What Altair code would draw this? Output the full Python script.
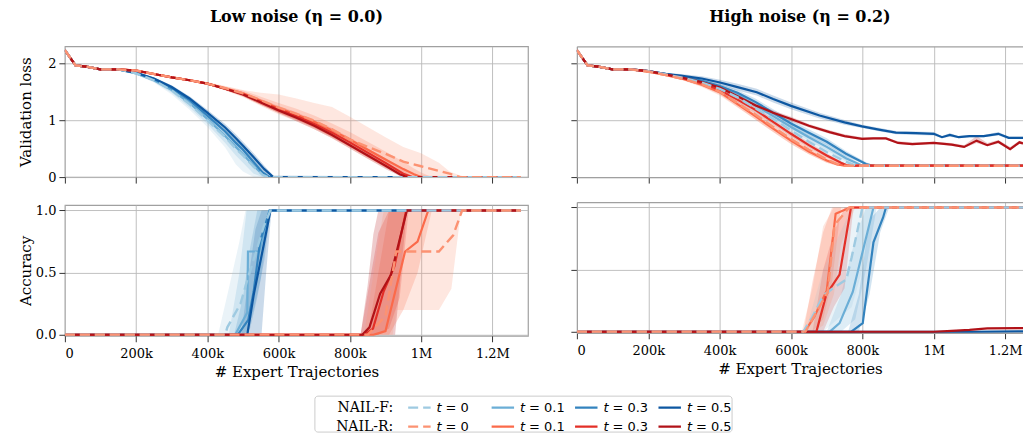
import altair as alt
import pandas as pd

# x values are in thousands of expert trajectories
EARLY_X = [0, 30, 60, 100, 150]
EARLY_LOSS = [2.23, 1.96, 1.94, 1.89, 1.89]

# ---------------- Low noise: validation loss ----------------
LL_F0_X = [200, 250, 300, 350, 400, 450, 480, 500, 530, 555, 570, 1280]
LL_F0_Y = [1.82, 1.70, 1.52, 1.28, 1.00, 0.70, 0.50, 0.38, 0.18, 0.04, 0.0, 0.0]
LL_F0_LO = [1.80, 1.66, 1.45, 1.18, 0.88, 0.52, 0.22, 0.10, 0.0, 0.0, 0.0, 0.0]
LL_F0_HI = [1.84, 1.74, 1.58, 1.38, 1.12, 0.86, 0.68, 0.56, 0.32, 0.12, 0.02, 0.0]
LL_F1_X = [200, 250, 300, 350, 400, 450, 480, 500, 530, 555, 570, 1280]
LL_F1_Y = [1.82, 1.70, 1.53, 1.30, 1.02, 0.72, 0.53, 0.40, 0.20, 0.05, 0.0, 0.0]
LL_F1_LO = [1.80, 1.67, 1.48, 1.22, 0.93, 0.60, 0.38, 0.25, 0.06, 0.0, 0.0, 0.0]
LL_F1_HI = [1.84, 1.73, 1.58, 1.38, 1.10, 0.82, 0.65, 0.52, 0.30, 0.10, 0.01, 0.0]
LL_F3_X = [200, 250, 300, 350, 400, 450, 480, 500, 530, 555, 575, 1280]
LL_F3_Y = [1.83, 1.72, 1.56, 1.35, 1.08, 0.80, 0.60, 0.48, 0.26, 0.08, 0.0, 0.0]
LL_F3_LO = [1.81, 1.69, 1.52, 1.29, 1.00, 0.70, 0.50, 0.38, 0.17, 0.02, 0.0, 0.0]
LL_F3_HI = [1.85, 1.75, 1.60, 1.40, 1.15, 0.88, 0.70, 0.58, 0.36, 0.15, 0.02, 0.0]
LL_F5_X = [200, 250, 300, 350, 400, 450, 480, 500, 530, 560, 585, 1280]
LL_F5_Y = [1.83, 1.73, 1.58, 1.38, 1.13, 0.87, 0.68, 0.55, 0.35, 0.14, 0.0, 0.0]
LL_F5_LO = [1.82, 1.71, 1.55, 1.34, 1.08, 0.81, 0.61, 0.48, 0.28, 0.08, 0.0, 0.0]
LL_F5_HI = [1.85, 1.75, 1.61, 1.42, 1.18, 0.93, 0.75, 0.62, 0.42, 0.20, 0.03, 0.0]
LL_R0_X = [200, 250, 300, 350, 400, 450, 500, 550, 600, 650, 700, 750, 800, 850, 900, 950, 1000, 1050, 1080, 1110, 1130, 1280]
LL_R0_Y = [1.87, 1.81, 1.75, 1.70, 1.64, 1.56, 1.47, 1.35, 1.22, 1.11, 0.99, 0.84, 0.66, 0.53, 0.41, 0.27, 0.19, 0.11, 0.06, 0.0, 0.0, 0.0]
LL_R0_LO = [1.86, 1.80, 1.74, 1.69, 1.62, 1.52, 1.40, 1.25, 1.10, 0.98, 0.84, 0.68, 0.50, 0.32, 0.16, 0.03, 0.0, 0.0, 0.0, 0.0, 0.0, 0.0]
LL_R0_HI = [1.88, 1.82, 1.77, 1.72, 1.67, 1.60, 1.53, 1.48, 1.45, 1.38, 1.30, 1.23, 1.06, 0.88, 0.70, 0.53, 0.42, 0.25, 0.10, 0.03, 0.0, 0.0]
LL_R1_X = [200, 250, 300, 350, 400, 450, 500, 550, 600, 650, 700, 750, 800, 850, 900, 950, 980, 1000, 1030, 1280]
LL_R1_Y = [1.87, 1.81, 1.75, 1.70, 1.64, 1.56, 1.47, 1.34, 1.21, 1.10, 0.97, 0.82, 0.66, 0.48, 0.31, 0.14, 0.05, 0.0, 0.0, 0.0]
LL_R1_LO = [1.86, 1.80, 1.74, 1.69, 1.63, 1.53, 1.42, 1.27, 1.13, 1.01, 0.87, 0.71, 0.55, 0.37, 0.20, 0.05, 0.0, 0.0, 0.0, 0.0]
LL_R1_HI = [1.88, 1.82, 1.76, 1.71, 1.65, 1.59, 1.52, 1.41, 1.30, 1.20, 1.08, 0.94, 0.79, 0.62, 0.45, 0.27, 0.15, 0.08, 0.0, 0.0]
LL_R3_X = [200, 250, 300, 350, 400, 450, 500, 550, 600, 650, 700, 750, 800, 850, 900, 950, 975, 1280]
LL_R3_Y = [1.87, 1.81, 1.75, 1.70, 1.64, 1.55, 1.46, 1.32, 1.19, 1.07, 0.93, 0.78, 0.61, 0.43, 0.25, 0.06, 0.0, 0.0]
LL_R3_LO = [1.86, 1.80, 1.74, 1.69, 1.63, 1.53, 1.42, 1.27, 1.13, 1.00, 0.86, 0.70, 0.53, 0.35, 0.17, 0.01, 0.0, 0.0]
LL_R3_HI = [1.88, 1.82, 1.76, 1.71, 1.65, 1.57, 1.50, 1.37, 1.25, 1.14, 1.00, 0.86, 0.69, 0.51, 0.33, 0.12, 0.03, 0.0]
LL_R5_X = [200, 250, 300, 350, 400, 450, 500, 550, 600, 650, 700, 750, 800, 850, 900, 940, 960, 1280]
LL_R5_Y = [1.87, 1.81, 1.75, 1.70, 1.64, 1.55, 1.45, 1.31, 1.17, 1.04, 0.90, 0.74, 0.56, 0.38, 0.20, 0.05, 0.0, 0.0]
LL_R5_LO = [1.86, 1.80, 1.74, 1.69, 1.63, 1.53, 1.42, 1.27, 1.12, 0.98, 0.84, 0.68, 0.50, 0.32, 0.14, 0.02, 0.0, 0.0]
LL_R5_HI = [1.88, 1.82, 1.76, 1.71, 1.65, 1.57, 1.48, 1.35, 1.22, 1.10, 0.96, 0.80, 0.62, 0.44, 0.26, 0.09, 0.02, 0.0]

# ---------------- Low noise: accuracy ----------------
LA_F0_X = [0, 450, 456, 493, 512, 535, 558, 577, 1280]
LA_F0_Y = [0, 0, 0.06, 0.25, 0.44, 0.65, 0.87, 1.0, 1.0]
LA_F0_BX = [0, 430, 460, 490, 507, 530, 555, 580, 1280]
LA_F0_LO = [0, 0, 0, 0, 0, 0.25, 0.65, 1.0, 1.0]
LA_F0_HI = [0, 0, 0.37, 0.75, 1.0, 1.0, 1.0, 1.0, 1.0]
LA_F1_X = [0, 478, 512, 514, 546, 574, 1280]
LA_F1_Y = [0, 0, 0.18, 0.67, 0.67, 1.0, 1.0]
LA_F1_BX = [0, 460, 490, 510, 530, 550, 575, 1280]
LA_F1_LO = [0, 0, 0, 0, 0.2, 0.45, 1.0, 1.0]
LA_F1_HI = [0, 0, 0.5, 1.0, 1.0, 1.0, 1.0, 1.0]
LA_F3_X = [0, 485, 515, 530, 548, 575, 1280]
LA_F3_Y = [0, 0, 0.12, 0.35, 0.75, 1.0, 1.0]
LA_F3_BX = [0, 475, 500, 520, 540, 560, 578, 1280]
LA_F3_LO = [0, 0, 0, 0.05, 0.3, 0.6, 1.0, 1.0]
LA_F3_HI = [0, 0, 0.3, 0.7, 1.0, 1.0, 1.0, 1.0]
LA_F5_X = [0, 512, 530, 558, 577, 1280]
LA_F5_Y = [0, 0, 0.32, 0.72, 1.0, 1.0]
LA_F5_BX = [0, 495, 515, 535, 552, 565, 580, 1280]
LA_F5_LO = [0, 0, 0, 0, 0, 0.5, 1.0, 1.0]
LA_F5_HI = [0, 0, 0.45, 0.85, 1.0, 1.0, 1.0, 1.0]
LA_R0_X = [0, 850, 900, 930, 1050, 1090, 1115, 1280]
LA_R0_Y = [0, 0, 0.15, 0.67, 0.67, 0.8, 1.0, 1.0]
LA_R0_BX = [0, 840, 880, 895, 920, 930, 1050, 1085, 1112, 1280]
LA_R0_LO = [0, 0, 0, 0, 0, 0.2, 0.2, 0.37, 1.0, 1.0]
LA_R0_HI = [0, 0, 0.75, 1.0, 1.0, 1.0, 1.0, 1.0, 1.0, 1.0]
LA_R1_X = [0, 866, 900, 955, 990, 1020, 1280]
LA_R1_Y = [0, 0, 0.03, 0.67, 0.75, 1.0, 1.0]
LA_R1_BX = [0, 850, 880, 910, 950, 990, 1030, 1280]
LA_R1_LO = [0, 0, 0, 0, 0.2, 0.5, 1.0, 1.0]
LA_R1_HI = [0, 0, 0.5, 1.0, 1.0, 1.0, 1.0, 1.0]
LA_R3_X = [0, 840, 865, 895, 925, 958, 1280]
LA_R3_Y = [0, 0, 0.05, 0.35, 0.55, 1.0, 1.0]
LA_R3_BX = [0, 830, 860, 880, 910, 940, 965, 1280]
LA_R3_LO = [0, 0, 0, 0, 0.05, 0.3, 1.0, 1.0]
LA_R3_HI = [0, 0, 0.5, 0.82, 1.0, 1.0, 1.0, 1.0]
LA_R5_X = [0, 835, 855, 885, 915, 960, 1280]
LA_R5_Y = [0, 0, 0.06, 0.33, 0.48, 1.0, 1.0]
LA_R5_BX = [0, 830, 850, 866, 880, 927, 960, 1280]
LA_R5_LO = [0, 0, 0, 0, 0, 0, 1.0, 1.0]
LA_R5_HI = [0, 0, 0.4, 0.81, 1.0, 1.0, 1.0, 1.0]

# ---------------- High noise: validation loss ----------------
HL_F0_X = [200, 250, 300, 350, 400, 450, 500, 550, 600, 650, 700, 750, 782, 1250]
HL_F0_Y = [1.86, 1.80, 1.74, 1.66, 1.55, 1.40, 1.21, 1.02, 0.82, 0.62, 0.44, 0.28, 0.20, 0.20]
HL_F0_LO = [1.85, 1.78, 1.71, 1.61, 1.48, 1.31, 1.11, 0.91, 0.71, 0.52, 0.35, 0.22, 0.19, 0.19]
HL_F0_HI = [1.87, 1.82, 1.77, 1.71, 1.62, 1.49, 1.31, 1.13, 0.93, 0.73, 0.54, 0.36, 0.23, 0.21]
HL_F1_X = [200, 250, 300, 350, 400, 450, 500, 550, 600, 650, 700, 754, 800, 1250]
HL_F1_Y = [1.86, 1.81, 1.75, 1.68, 1.58, 1.44, 1.26, 1.07, 0.88, 0.70, 0.53, 0.33, 0.20, 0.20]
HL_F1_LO = [1.85, 1.80, 1.73, 1.65, 1.54, 1.39, 1.20, 1.01, 0.82, 0.64, 0.47, 0.28, 0.19, 0.19]
HL_F1_HI = [1.87, 1.82, 1.77, 1.71, 1.62, 1.49, 1.32, 1.13, 0.94, 0.76, 0.59, 0.38, 0.22, 0.21]
HL_F3_X = [200, 250, 300, 350, 400, 450, 500, 550, 600, 650, 700, 754, 810, 830, 1250]
HL_F3_Y = [1.86, 1.81, 1.76, 1.69, 1.60, 1.48, 1.32, 1.13, 0.94, 0.78, 0.62, 0.41, 0.23, 0.20, 0.20]
HL_F3_LO = [1.85, 1.80, 1.74, 1.66, 1.56, 1.43, 1.26, 1.07, 0.88, 0.72, 0.56, 0.36, 0.21, 0.19, 0.19]
HL_F3_HI = [1.87, 1.82, 1.78, 1.72, 1.64, 1.53, 1.38, 1.19, 1.00, 0.84, 0.68, 0.46, 0.26, 0.21, 0.21]
HL_F5_X = [200, 250, 291, 350, 401, 450, 504, 550, 600, 680, 750, 799, 850, 894, 950, 1000, 1023, 1045, 1070, 1100, 1140, 1181, 1210, 1250]
HL_F5_Y = [1.86, 1.81, 1.78, 1.73, 1.66, 1.58, 1.49, 1.37, 1.25, 1.08, 0.96, 0.89, 0.83, 0.78, 0.77, 0.76, 0.70, 0.74, 0.70, 0.72, 0.72, 0.76, 0.69, 0.69]
HL_F5_LO = [1.85, 1.79, 1.75, 1.69, 1.61, 1.52, 1.43, 1.31, 1.19, 1.03, 0.92, 0.86, 0.80, 0.75, 0.74, 0.73, 0.68, 0.71, 0.68, 0.70, 0.70, 0.73, 0.67, 0.67]
HL_F5_HI = [1.87, 1.83, 1.81, 1.77, 1.71, 1.64, 1.55, 1.43, 1.31, 1.13, 1.00, 0.92, 0.86, 0.81, 0.80, 0.79, 0.72, 0.77, 0.72, 0.74, 0.74, 0.79, 0.71, 0.71]
HL_R0_X = [200, 250, 300, 350, 400, 450, 500, 550, 600, 650, 700, 730, 750, 1250]
HL_R0_Y = [1.85, 1.79, 1.72, 1.63, 1.50, 1.30, 1.10, 0.88, 0.67, 0.48, 0.31, 0.23, 0.20, 0.20]
HL_R0_LO = [1.84, 1.77, 1.69, 1.58, 1.43, 1.22, 1.01, 0.79, 0.58, 0.40, 0.25, 0.20, 0.19, 0.19]
HL_R0_HI = [1.86, 1.81, 1.75, 1.68, 1.57, 1.38, 1.19, 0.97, 0.76, 0.56, 0.38, 0.28, 0.22, 0.21]
HL_R1_X = [200, 250, 300, 350, 400, 450, 500, 550, 600, 650, 700, 730, 750, 1250]
HL_R1_Y = [1.85, 1.79, 1.72, 1.62, 1.49, 1.28, 1.07, 0.85, 0.64, 0.45, 0.29, 0.22, 0.20, 0.20]
HL_R1_LO = [1.84, 1.78, 1.70, 1.59, 1.45, 1.23, 1.01, 0.79, 0.58, 0.40, 0.25, 0.20, 0.19, 0.19]
HL_R1_HI = [1.86, 1.80, 1.74, 1.65, 1.53, 1.33, 1.13, 0.91, 0.70, 0.50, 0.33, 0.25, 0.21, 0.21]
HL_R3_X = [200, 250, 300, 350, 400, 450, 500, 550, 600, 650, 700, 740, 760, 1250]
HL_R3_Y = [1.86, 1.80, 1.73, 1.65, 1.53, 1.36, 1.18, 0.97, 0.76, 0.56, 0.38, 0.25, 0.20, 0.20]
HL_R3_LO = [1.85, 1.79, 1.71, 1.62, 1.49, 1.31, 1.13, 0.92, 0.71, 0.51, 0.34, 0.22, 0.19, 0.19]
HL_R3_HI = [1.87, 1.81, 1.75, 1.68, 1.57, 1.41, 1.23, 1.02, 0.81, 0.61, 0.42, 0.28, 0.21, 0.21]
HL_R5_X = [200, 250, 291, 350, 401, 450, 504, 550, 600, 650, 708, 750, 799, 830, 866, 900, 940, 1000, 1050, 1085, 1120, 1150, 1181, 1214, 1240, 1250]
HL_R5_Y = [1.86, 1.80, 1.75, 1.67, 1.57, 1.42, 1.25, 1.13, 1.02, 0.90, 0.79, 0.72, 0.67, 0.68, 0.68, 0.60, 0.58, 0.60, 0.57, 0.53, 0.64, 0.56, 0.62, 0.49, 0.61, 0.59]
HL_R5_LO = [1.85, 1.79, 1.73, 1.64, 1.53, 1.38, 1.21, 1.09, 0.98, 0.87, 0.76, 0.70, 0.65, 0.66, 0.66, 0.58, 0.56, 0.58, 0.55, 0.51, 0.60, 0.54, 0.59, 0.47, 0.58, 0.57]
HL_R5_HI = [1.87, 1.82, 1.77, 1.70, 1.61, 1.46, 1.29, 1.17, 1.06, 0.93, 0.82, 0.75, 0.70, 0.70, 0.70, 0.63, 0.61, 0.62, 0.60, 0.56, 0.72, 0.60, 0.65, 0.53, 0.64, 0.62]

# ---------------- High noise: accuracy ----------------
HA_F0_X = [0, 634, 660, 690, 717, 755, 770, 800, 1250]
HA_F0_Y = [0, 0, 0.12, 0.29, 0.35, 0.42, 0.6, 1.0, 1.0]
HA_F0_BX = [0, 640, 690, 730, 770, 800, 830, 1250]
HA_F0_LO = [0, 0, 0, 0.1, 0.2, 0.5, 1.0, 1.0]
HA_F0_HI = [0, 0, 0.5, 0.75, 1.0, 1.0, 1.0, 1.0]
HA_F1_X = [0, 708, 736, 773, 831, 1250]
HA_F1_Y = [0, 0, 0.07, 0.32, 1.0, 1.0]
HA_F1_BX = [0, 700, 740, 780, 810, 840, 1250]
HA_F1_LO = [0, 0, 0, 0.1, 0.5, 1.0, 1.0]
HA_F1_HI = [0, 0, 0.3, 0.75, 1.0, 1.0, 1.0]
HA_F3_X = [0, 768, 801, 831, 858, 866, 1250]
HA_F3_Y = [0, 0, 0.07, 0.72, 0.92, 1.0, 1.0]
HA_F3_BX = [0, 760, 790, 820, 850, 875, 1250]
HA_F3_LO = [0, 0, 0, 0.3, 0.8, 1.0, 1.0]
HA_F3_HI = [0, 0, 0.3, 0.9, 1.0, 1.0, 1.0]
HA_F5_X = [0, 1100, 1250]
HA_F5_Y = [0, 0, 0.004]
HA_R0_X = [0, 640, 703, 722, 763, 1250]
HA_R0_Y = [0, 0, 0.32, 0.86, 1.0, 1.0]
HA_R0_BX = [0, 630, 660, 690, 720, 740, 780, 1250]
HA_R0_LO = [0, 0, 0, 0.05, 0.3, 0.7, 1.0, 1.0]
HA_R0_HI = [0, 0, 0.35, 0.85, 1.0, 1.0, 1.0, 1.0]
HA_R1_X = [0, 638, 665, 700, 725, 765, 1250]
HA_R1_Y = [0, 0, 0.12, 0.33, 0.95, 1.0, 1.0]
HA_R1_BX = [0, 635, 660, 690, 715, 740, 1250]
HA_R1_LO = [0, 0, 0, 0.1, 0.4, 1.0, 1.0]
HA_R1_HI = [0, 0, 0.4, 0.8, 1.0, 1.0, 1.0]
HA_R3_X = [0, 671, 699, 736, 768, 1250]
HA_R3_Y = [0, 0, 0.30, 0.46, 1.0, 1.0]
HA_R3_BX = [0, 660, 690, 720, 750, 775, 1250]
HA_R3_LO = [0, 0, 0, 0.2, 0.35, 1.0, 1.0]
HA_R3_HI = [0, 0, 0.5, 0.8, 1.0, 1.0, 1.0]
HA_R5_X = [0, 1000, 1100, 1150, 1250]
HA_R5_Y = [0, 0, 0.015, 0.028, 0.03]

# ---------------- labels / styles ----------------
TITLES = ["Low noise (η = 0.0)", "High noise (η = 0.2)"]
METHODS = ["NAIL-F", "NAIL-R"]
T_VALUES = ["0", "0.1", "0.3", "0.5"]
KEYS = ["F0", "F1", "F3", "F5", "R0", "R1", "R3", "R5"]
COLORS = {"F0": "#9ecae1", "F1": "#6baed6", "F3": "#3383be", "F5": "#0d57a1",
          "R0": "#fc9272", "R1": "#fb6a4a", "R3": "#e32f27", "R5": "#b11218"}
DASHED = {"F0", "R0"}
DRAW_ORDER = ["F1", "F3", "F5", "R1", "R3", "R5", "F0", "R0"]
X_TICKS = [0, 200, 400, 600, 800, 1000, 1200]
SERIF = "DejaVu Serif"
FRAME = "#a0a0a0"


def loss_series(x, y, lo, hi):
    return (EARLY_X + x, EARLY_LOSS + y, EARLY_X + x, EARLY_LOSS + lo, EARLY_LOSS + hi)


LOW_LOSS = {
    "F0": loss_series(LL_F0_X, LL_F0_Y, LL_F0_LO, LL_F0_HI),
    "F1": loss_series(LL_F1_X, LL_F1_Y, LL_F1_LO, LL_F1_HI),
    "F3": loss_series(LL_F3_X, LL_F3_Y, LL_F3_LO, LL_F3_HI),
    "F5": loss_series(LL_F5_X, LL_F5_Y, LL_F5_LO, LL_F5_HI),
    "R0": loss_series(LL_R0_X, LL_R0_Y, LL_R0_LO, LL_R0_HI),
    "R1": loss_series(LL_R1_X, LL_R1_Y, LL_R1_LO, LL_R1_HI),
    "R3": loss_series(LL_R3_X, LL_R3_Y, LL_R3_LO, LL_R3_HI),
    "R5": loss_series(LL_R5_X, LL_R5_Y, LL_R5_LO, LL_R5_HI),
}
HIGH_LOSS = {
    "F0": loss_series(HL_F0_X, HL_F0_Y, HL_F0_LO, HL_F0_HI),
    "F1": loss_series(HL_F1_X, HL_F1_Y, HL_F1_LO, HL_F1_HI),
    "F3": loss_series(HL_F3_X, HL_F3_Y, HL_F3_LO, HL_F3_HI),
    "F5": loss_series(HL_F5_X, HL_F5_Y, HL_F5_LO, HL_F5_HI),
    "R0": loss_series(HL_R0_X, HL_R0_Y, HL_R0_LO, HL_R0_HI),
    "R1": loss_series(HL_R1_X, HL_R1_Y, HL_R1_LO, HL_R1_HI),
    "R3": loss_series(HL_R3_X, HL_R3_Y, HL_R3_LO, HL_R3_HI),
    "R5": loss_series(HL_R5_X, HL_R5_Y, HL_R5_LO, HL_R5_HI),
}
LOW_ACC = {
    "F0": (LA_F0_X, LA_F0_Y, LA_F0_BX, LA_F0_LO, LA_F0_HI),
    "F1": (LA_F1_X, LA_F1_Y, LA_F1_BX, LA_F1_LO, LA_F1_HI),
    "F3": (LA_F3_X, LA_F3_Y, LA_F3_BX, LA_F3_LO, LA_F3_HI),
    "F5": (LA_F5_X, LA_F5_Y, LA_F5_BX, LA_F5_LO, LA_F5_HI),
    "R0": (LA_R0_X, LA_R0_Y, LA_R0_BX, LA_R0_LO, LA_R0_HI),
    "R1": (LA_R1_X, LA_R1_Y, LA_R1_BX, LA_R1_LO, LA_R1_HI),
    "R3": (LA_R3_X, LA_R3_Y, LA_R3_BX, LA_R3_LO, LA_R3_HI),
    "R5": (LA_R5_X, LA_R5_Y, LA_R5_BX, LA_R5_LO, LA_R5_HI),
}
HIGH_ACC = {
    "F0": (HA_F0_X, HA_F0_Y, HA_F0_BX, HA_F0_LO, HA_F0_HI),
    "F1": (HA_F1_X, HA_F1_Y, HA_F1_BX, HA_F1_LO, HA_F1_HI),
    "F3": (HA_F3_X, HA_F3_Y, HA_F3_BX, HA_F3_LO, HA_F3_HI),
    "F5": (HA_F5_X, HA_F5_Y, None, None, None),
    "R0": (HA_R0_X, HA_R0_Y, HA_R0_BX, HA_R0_LO, HA_R0_HI),
    "R1": (HA_R1_X, HA_R1_Y, HA_R1_BX, HA_R1_LO, HA_R1_HI),
    "R3": (HA_R3_X, HA_R3_Y, HA_R3_BX, HA_R3_LO, HA_R3_HI),
    "R5": (HA_R5_X, HA_R5_Y, None, None, None),
}

X_LABEL_EXPR = ("datum.value == 0 ? '0' : (datum.value >= 1000 ? "
                "format(datum.value / 1000, '~g') + 'M' : format(datum.value, 'd') + 'k')")


def panel(series, xmax, width, kind, left, bottom, title=None, open_right=False):
    if kind == "loss":
        ydom, yvals, yfmt, ytitle = [0, 2.295], [0, 1, 2], "d", "Validation loss"
    else:
        ydom, yvals, yfmt, ytitle = [-0.008, 1.044], [0, 0.5, 1], ".1f", "Accuracy"
    xscale = alt.Scale(domain=[0, xmax], nice=False, zero=False)
    yscale = alt.Scale(domain=ydom, nice=False, zero=False)
    dom = dict(domain=True, domainColor=FRAME, domainWidth=1.2) if open_right else {}
    if bottom:
        xaxis = alt.Axis(values=X_TICKS, labelExpr=X_LABEL_EXPR, title="# Expert Trajectories",
                         labelPadding=6, titlePadding=4, grid=True, **dom)
    else:
        xaxis = alt.Axis(values=X_TICKS, labels=False, title=None, grid=True, **dom)
    if left:
        yaxis = alt.Axis(values=yvals, format=yfmt, title=ytitle, titleX=-31, labelPadding=3, grid=True, **dom)
    else:
        yaxis = alt.Axis(values=yvals, labels=False, title=None, grid=True, **dom)

    layers = []

    def xenc():
        if open_right and layers:
            return alt.X("x:Q", scale=xscale, axis=None)
        return alt.X("x:Q", scale=xscale, axis=xaxis)

    for k in DRAW_ORDER:
        x, y, bx, lo, hi = series[k]
        if bx is None:
            continue
        df = pd.DataFrame({"x": bx, "lo": lo, "hi": hi})
        layers.append(
            alt.Chart(df).mark_area(color=COLORS[k], opacity=0.22, clip=True).encode(
                x=xenc(),
                y=alt.Y("lo:Q", scale=yscale, axis=yaxis),
                y2="hi:Q",
            )
        )
    for k in DRAW_ORDER:
        x, y, bx, lo, hi = series[k]
        df = pd.DataFrame({"x": x, "y": y})
        if k in DASHED:
            mk = alt.Chart(df).mark_line(color=COLORS[k], strokeWidth=2.4, strokeDash=[10, 5], clip=True)
        else:
            mk = alt.Chart(df).mark_line(color=COLORS[k], strokeWidth=2.2, clip=True)
        layers.append(mk.encode(x=xenc(), y=alt.Y("y:Q", scale=yscale, axis=yaxis)))
    if open_right:
        # top edge of the frame (the right edge is cut off, as in the original figure)
        x, y, bx, lo, hi = series["F0"]
        top_axis = alt.Axis(orient="top", labels=False, ticks=False, grid=False, title=None,
                            domain=True, domainColor=FRAME, domainWidth=1.2)
        layers.append(alt.Chart(pd.DataFrame({"x": x, "y": y})).mark_line(opacity=0, clip=True).encode(
            x=alt.X("x:Q", scale=xscale, axis=top_axis), y=alt.Y("y:Q", scale=yscale, axis=yaxis)))
    ch = alt.layer(*layers).properties(width=width, height=131)
    if open_right:
        ch = ch.resolve_axis(x="independent").properties(view=alt.ViewBackground(strokeOpacity=0))
    if title:
        ch = ch.properties(title=alt.TitleParams(text=title, anchor="middle", frame="group", font=SERIF,
                                                 fontSize=16, fontWeight="bold", color="#000", offset=21))
    return ch


tl = panel(LOW_LOSS, 1300, 464, "loss", True, False, TITLES[0])
bl = panel(LOW_ACC, 1300, 464, "acc", True, True)
tr = panel(HIGH_LOSS, 1250, 447, "loss", False, False, TITLES[1], open_right=True)
br = panel(HIGH_ACC, 1250, 447, "acc", False, True, open_right=True)

left_col = alt.vconcat(tl, bl, spacing=18).resolve_scale(x="independent", y="independent")
right_col = alt.vconcat(tr, br, spacing=18).resolve_scale(x="independent", y="independent")
row = alt.hconcat(left_col, right_col, spacing=41).resolve_scale(x="independent", y="independent")

# ---------------- legend ----------------
leg_rows = []
for i, m in enumerate(METHODS):
    for j, t in enumerate(T_VALUES):
        k = KEYS[i * 4 + j]
        leg_rows.append({"method": m, "t": t, "key": k, "eq": "= " + t, "lab": m + ":",
                         "dash": "dashed" if k in DASHED else "solid"})
leg_df = pd.DataFrame(leg_rows)

lx = alt.X("t:N", scale=alt.Scale(type="point", domain=T_VALUES, padding=1.1125, align=0.562), axis=None)
ly = alt.Y("method:N", scale=alt.Scale(type="point", domain=METHODS, padding=0.447), axis=None)
lcol = alt.Color("key:N", scale=alt.Scale(domain=KEYS, range=[COLORS[k] for k in KEYS]), legend=None)
ldash = alt.StrokeDash("dash:N", scale=alt.Scale(domain=["solid", "dashed"], range=[[1, 0], [10, 5]]),
                       legend=None)

leg_rules = alt.Chart(leg_df).mark_rule(strokeWidth=2.3, x2Offset=22.5, yOffset=3.5).encode(
    x=lx, x2=alt.X2("t"), y=ly, color=lcol, strokeDash=ldash)
leg_t = alt.Chart(leg_df).mark_text(align="left", baseline="middle", dx=28.5, dy=3.5, font="DejaVu Sans",
                                    fontStyle="italic", fontSize=13, color="#000").encode(
    x=lx, y=ly, text=alt.value("t"))
leg_eq = alt.Chart(leg_df).mark_text(align="left", baseline="middle", dx=37.5, dy=3.5, font="DejaVu Sans",
                                     fontSize=13, color="#000").encode(x=lx, y=ly, text="eq:N")
leg_lab = alt.Chart(leg_df).transform_filter(alt.datum.t == "0").mark_text(
    align="right", baseline="middle", dx=-15, dy=3.5, font=SERIF, fontSize=14, color="#000").encode(
    x=lx, y=ly, text="lab:N")
legend = alt.layer(leg_rules, leg_t, leg_eq, leg_lab).properties(
    width=418, height=36, view=alt.ViewBackground(stroke="#cccccc", strokeWidth=1, cornerRadius=3))

spacer = alt.Chart(leg_df).mark_point(opacity=0).properties(
    width=249, height=36, view=alt.ViewBackground(strokeOpacity=0))
legend_row = alt.hconcat(spacer, legend, spacing=0)

chart = alt.vconcat(row, legend_row, spacing=14).resolve_scale(
    x="independent", y="independent", color="independent"
).properties(
    padding={"left": 10, "top": 0, "right": 0, "bottom": 0}
).configure_view(
    stroke=FRAME, strokeWidth=1.2
).configure_axis(
    labelFont=SERIF, labelFontSize=13, labelColor="#000", titleFont=SERIF, titleFontSize=15,
    titleFontWeight="normal", titleColor="#000", tickColor="#333", tickSize=6, tickWidth=1,
    domain=False, gridColor="#b8b8b8", gridWidth=0.9
)

chart.save("out.html", embed_options={"renderer": "svg", "actions": False})
